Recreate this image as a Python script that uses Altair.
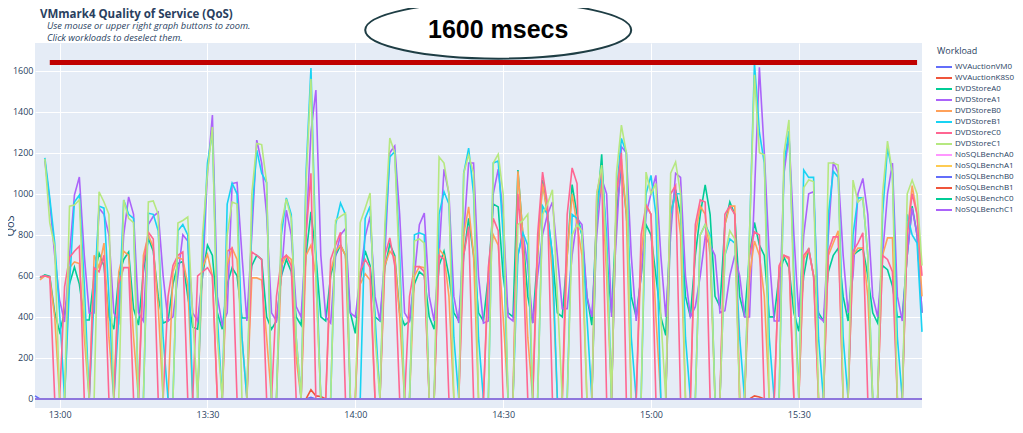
import altair as alt
import pandas as pd

# ---------------- data ----------------
START = pd.Timestamp("2023-05-10 12:55")   # first sample, one sample per minute

workloads = ["WVAuctionVM0", "WVAuctionK8S0", "DVDStoreA0", "DVDStoreA1",
             "DVDStoreB0", "DVDStoreB1", "DVDStoreC0", "DVDStoreC1",
             "NoSQLBenchA0", "NoSQLBenchA1", "NoSQLBenchB0", "NoSQLBenchB1",
             "NoSQLBenchC0", "NoSQLBenchC1"]
colors = ["#636EFA", "#EF553B", "#00CC96", "#AB63FA", "#FFA15A", "#19D3F3",
          "#FF6692", "#B6E880", "#FF97FF", "#FECB52", "#636EFA", "#EF553B",
          "#00CC96", "#AB63FA"]
tick_hours = [(13, 0), (13, 30), (14, 0), (14, 30), (15, 0), (15, 30)]
y_ticks = [0, 200, 400, 600, 800, 1000, 1200, 1400, 1600]

title_text = "VMmark4 Quality of Service (QoS)"
subtitle_lines = ["Use mouse or upper right graph buttons to zoom.",
                  "Click workloads to deselect them."]

N = None
dvd_a0 = [N,
    590, 605, 598, 420, 327,
    420, 560, 643, 560, 385, 385,
    600, 710, 650, 400, 340,
    600, 680, 716, 440, 360,
    620, 785, 720, 500, 370, 380,
    560, 660, 670, 500, 350, 340,
    600, 750, 700, 420, 340,
    560, 640, 600, 395, 395,
    650, 700, 680, 400, 340,
    380, 600, 680, 620, 400, 360,
    700, 912, 700, 400, 380,
    600, 700, 750, 700, 420, 320,
    580, 722, 650, 400, 380,
    640, 755, 700, 420, 360, 380,
    560, 620, 600, 400, 340,
    650, 720, 600, 420, 380,
    700, 880, 700, 420, 380,
    600, 950, 936, 600, 420, 400,
    1116, 800, 500, 370,
    700, 1067, 900, 700, 420, 400,
    700, 1045, 900, 800, 500, 360,
    900, 1193, 700, 420,
    900, 1140, 900, 500, 400,
    600, 850, 800, 600, 400, 310,
    900, 1020, 900, 500, 400,
    700, 900, 1043, 900, 500, 450,
    850, 960, 900, 500, 400,
    700, 860, 750, 700, 400, 400,
    600, 690, 640, 420, 330,
    600, 735, 600, 420, 380,
    620, 700, 735, 500, 380,
    700, 720, 735, 600, 420, 370,
    650, 630, 550, 400, 400,
    700, 940, 800, 420]

dvd_a1 = [N, N,
    1160, 960, 700, 482,
    375, 700, 994, 1082, 700, 419,
    419, 930, 900, 800, 420,
    375, 800, 985, 900, 420,
    380, 850, 890, 910, 600, 380,
    400, 600, 800, 770, 420, 380,
    600, 1100, 1384, 500, 360,
    420, 1050, 1055, 700, 380,
    800, 1262, 1150, 900, 420,
    380, 600, 920, 800, 450, 400,
    800, 1300, 1506, 700, 400,
    370, 700, 800, 830, 420, 400,
    600, 790, 890, 500, 380,
    700, 1200, 1233, 900, 420, 380,
    600, 850, 906, 500, 380,
    700, 1120, 1000, 500, 370,
    800, 1150, 1150, 600, 370,
    380, 1000, 1120, 900, 400, 380,
    700, 810, 650, 370,
    600, 800, 900, 960, 700, 440,
    440, 700, 880, 850, 500, 400,
    800, 1075, 1000, 400,
    800, 1230, 1200, 700, 380,
    600, 900, 1000, 1090, 700, 400,
    800, 1100, 1080, 600, 400,
    450, 600, 790, 750, 700, 420,
    430, 600, 700, 600, 400,
    400, 1000, 1617, 1200, 700, 380,
    380, 1100, 1285, 800, 400,
    800, 1000, 1010, 400, 380,
    800, 1155, 1100, 700, 420,
    600, 1000, 1075, 900, 500, 400,
    700, 1000, 1150, 500, 380,
    700, 930, 800, 420]

dvd_b0 = [N,
    580, 600, 590, 400, 0,
    0, 640, 668, 660, 300, 0,
    700, 640, 760, 300, 0,
    620, 720, 700, 300, 0,
    700, 800, 740, 450, 0, 0,
    620, 690, 680, 560, 0, 0,
    640, 705, 600, 0, 0,
    650, 735, 680, 300, 0,
    590, 590, 580, 300, 0,
    0, 650, 700, 680, 200, 0,
    700, 750, 600, 0, 0,
    620, 720, 750, 700, 0, 0,
    560, 610, 580, 0, 0,
    650, 720, 690, 400, 0, 0,
    600, 645, 640, 0, 0,
    730, 700, 500, 0, 0,
    800, 936, 700, 0, 0,
    600, 800, 750, 400, 0, 0,
    1110, 800, 300, 0,
    700, 1050, 900, 600, 0, 0,
    700, 1000, 850, 700, 0, 0,
    900, 1075, 600, 0,
    1000, 1170, 900, 0, 0,
    700, 945, 900, 400, 0, 0,
    900, 1000, 800, 0, 0,
    800, 940, 900, 700, 0, 0,
    850, 940, 940, 0, 0,
    600, 770, 700, 500, 0, 0,
    640, 700, 680, 0, 0,
    680, 730, 600, 0, 0,
    700, 760, 820, 0, 0,
    700, 735, 735, 500, 0, 0,
    700, 785, 785, 0, 0,
    800, 1040, 900, 500]

dvd_b1 = [N, N,
    1175, 980, 760, 420,
    0, 560, 960, 994, 560, 0,
    500, 940, 930, 500, 0,
    400, 970, 900, 880, 0,
    0, 905, 900, 820, 300, 0,
    0, 820, 850, 800, 0, 0,
    700, 1150, 1300, 400, 0,
    950, 1052, 1000, 300, 0,
    900, 1213, 1100, 1055, 0,
    0, 800, 980, 900, 300, 0,
    1100, 1613, 700, 0, 0,
    0, 850, 955, 900, 0, 0,
    0, 880, 940, 400, 0,
    800, 1180, 1205, 700, 0, 0,
    800, 810, 800, 0, 0,
    900, 1010, 950, 300, 0,
    1100, 1223, 1000, 300, 0,
    0, 1150, 1160, 800, 0, 0,
    700, 810, 750, 0,
    0, 940, 900, 700, 0, 0,
    0, 900, 880, 800, 400, 0,
    900, 1125, 800, 0,
    1000, 1270, 1200, 300, 0,
    0, 1000, 1090, 900, 0, 0,
    900, 1000, 1000, 300, 0,
    0, 800, 850, 800, 0, 0,
    700, 780, 760, 300, 0,
    800, 1637, 1300, 1150, 300, 0,
    0, 1150, 1305, 600, 0,
    1116, 1080, 1080, 300, 0,
    900, 1110, 1080, 300, 0,
    800, 980, 980, 700, 0, 0,
    900, 1225, 1100, 300, 0,
    900, 800, 760, 327]

dvd_c0 = [N,
    595, 600, 595, 0, 0,
    546, 690, 720, 745, 0, 0,
    640, 620, 700, 0, 0,
    560, 640, 640, 0, 0,
    650, 813, 780, 0, 0, 500,
    650, 700, 716, 0, 0, 600,
    620, 640, 600, 0, 0,
    720, 735, 0, 0, 0,
    716, 700, 680, 0, 0,
    500, 680, 700, 650, 0, 0,
    800, 1100, 0, 0, 0,
    680, 750, 813, 0, 0, 0,
    620, 680, 640, 0, 0,
    700, 785, 650, 0, 0, 500,
    645, 645, 620, 0, 0,
    700, 680, 0, 0, 0,
    700, 840, 0, 0, 0,
    640, 880, 820, 0, 0, 0,
    1000, 700, 0, 0,
    800, 1106, 950, 0, 0, 0,
    900, 1126, 1050, 0, 0, 0,
    1000, 1120, 0, 0,
    1000, 1200, 0, 0, 0,
    800, 945, 900, 0, 0, 0,
    1000, 1040, 0, 0, 0,
    850, 970, 960, 0, 0, 0,
    900, 940, 900, 0, 0,
    700, 815, 800, 0, 0, 0,
    650, 700, 690, 0, 0,
    700, 730, 600, 0, 0,
    720, 790, 790, 0, 0,
    720, 760, 810, 0, 0, 0,
    700, 680, 620, 0, 0,
    800, 1000, 900, 600]

dvd_c1 = [N, N,
    1170, 858, 741, 0,
    0, 940, 945, 970, 400, 0,
    0, 1010, 960, 900, 0,
    0, 970, 880, 860, 0,
    0, 960, 965, 900, 0, 0,
    0, 858, 870, 887, 400, 0,
    800, 1100, 1326, 300, 0,
    800, 960, 950, 0, 0,
    1000, 1245, 1240, 1055, 0,
    0, 850, 975, 880, 300, 0,
    1050, 1560, 600, 0, 0,
    0, 870, 890, 905, 0, 0,
    860, 930, 1004, 300, 0,
    850, 1272, 1200, 600, 0, 0,
    770, 780, 760, 0, 0,
    1180, 1150, 1000, 0, 0,
    1100, 1190, 1100, 0, 0,
    0, 1150, 1193, 1000, 0, 0,
    850, 870, 900, 0,
    0, 900, 950, 1020, 500, 0,
    0, 800, 850, 820, 0, 0,
    1000, 1140, 700, 0,
    1100, 1335, 1200, 0, 0,
    0, 1106, 1000, 1050, 400, 0,
    1100, 1155, 1000, 0, 0,
    0, 800, 850, 780, 0, 0,
    700, 820, 780, 0, 0,
    800, 1580, 1200, 1190, 0, 0,
    0, 1200, 1360, 500, 0,
    1030, 1067, 1060, 0, 0,
    1150, 1150, 1140, 0, 0,
    1067, 960, 980, 700, 0, 0,
    1000, 1257, 1100, 0, 0,
    1000, 1067, 1000, 650]

dense = {"DVDStoreA0": dvd_a0, "DVDStoreA1": dvd_a1, "DVDStoreB0": dvd_b0,
         "DVDStoreB1": dvd_b1, "DVDStoreC0": dvd_c0, "DVDStoreC1": dvd_c1}

# workloads that stay on the zero line: (minute offsets, values)
wv_vm0_min = [0, 1, 55, 56, 57, 180]
wv_vm0_val = [15, 0, 0, 8, 0, 0]
wv_k8s_min = [0, 55, 56, 57, 58, 59, 145, 146, 147, 148, 180]
wv_k8s_val = [0, 0, 45, 15, 12, 0, 0, 15, 10, 0, 0]
flat_min = [0, 180]
flat_val = [0, 0]
sparse = {"WVAuctionVM0": (wv_vm0_min, wv_vm0_val),
          "WVAuctionK8S0": (wv_k8s_min, wv_k8s_val)}
for nm in workloads[8:]:
    sparse[nm] = (flat_min, flat_val)

# threshold annotation
thr_value = 1640
thr_start_min, thr_end_min = 3, 179
ann_min, ann_value, ann_text = 94, 1798, "1600 msecs"


def t(m):
    return (START + pd.Timedelta(minutes=m)).strftime("%Y-%m-%dT%H:%M:%S")


rows = []
for name in workloads:
    if name in dense:
        for m, v in enumerate(dense[name]):
            if v is not None:
                rows.append({"time": t(m), "Workload": name, "QoS": v})
    else:
        mins, vals = sparse[name]
        for m, v in zip(mins, vals):
            rows.append({"time": t(m), "Workload": name, "QoS": v})
df = pd.DataFrame(rows)

thr_df = pd.DataFrame({"start": [t(thr_start_min)], "end": [t(thr_end_min)],
                       "QoS": [thr_value]})
ann_df = pd.DataFrame({"time": [t(ann_min)], "QoS": [ann_value], "label": [ann_text]})
head_df = pd.DataFrame({"txt": [title_text]})
sub1_df = pd.DataFrame({"txt": [subtitle_lines[0]]})
sub2_df = pd.DataFrame({"txt": [subtitle_lines[1]]})

# ---------------- chart ----------------
FONT = "Open Sans"
TXT = "#2a3f5f"
PLOT_W, PLOT_H = 887, 365
x_vals = [alt.DateTime(year=START.year, month=START.month, date=START.day,
                       hours=h, minutes=mi) for h, mi in tick_hours]
xscale = alt.Scale(nice=False)
yscale = alt.Scale(domain=[-44, 1735], nice=False)

x_enc = alt.X("time:T", scale=xscale, title=None,
              axis=alt.Axis(format="%H:%M", values=x_vals, labelPadding=2))
y_enc = alt.Y("QoS:Q", scale=yscale, title="QoS",
              axis=alt.Axis(values=y_ticks, format="d", labelPadding=2, titleX=-20))

lines = alt.Chart(df).mark_line(strokeWidth=1.6).encode(
    x=x_enc,
    y=y_enc,
    color=alt.Color("Workload:N", sort=workloads,
                    scale=alt.Scale(domain=workloads, range=colors),
                    legend=alt.Legend(title="Workload", orient="none",
                                      legendX=902, legendY=4,
                                      symbolType="M -1.4 0 H 1.4", symbolSize=130,
                                      symbolStrokeWidth=2, labelFontSize=8,
                                      titleFontSize=9, titleFontWeight="normal",
                                      titleColor=TXT, labelColor=TXT,
                                      titleFont=FONT, labelFont=FONT,
                                      rowPadding=0, labelOffset=4, titlePadding=4)),
)

rule = alt.Chart(thr_df).mark_rule(color="#C00000", strokeWidth=5).encode(
    x=alt.X("start:T", scale=xscale), x2="end:T",
    y=alt.Y("QoS:Q", scale=yscale))

K = 0.5523
RY = 0.215
ELLIPSE = (f"M -1 0 C -1 {-RY*K:.4f} {-K:.4f} {-RY} 0 {-RY} "
           f"C {K:.4f} {-RY} 1 {-RY*K:.4f} 1 0 "
           f"C 1 {RY*K:.4f} {K:.4f} {RY} 0 {RY} "
           f"C {-K:.4f} {RY} -1 {RY*K:.4f} -1 0 Z")
ell = alt.Chart(ann_df).mark_point(shape=ELLIPSE, size=70756, fill="white",
                                   stroke="#1e3d44", strokeWidth=2, opacity=1,
                                   fillOpacity=1, strokeOpacity=1).encode(
    x=alt.X("time:T", scale=xscale), y=alt.Y("QoS:Q", scale=yscale))

txt = alt.Chart(ann_df).mark_text(font="Liberation Sans", fontSize=25,
                                  fontWeight="bold", color="black").encode(
    x=alt.X("time:T", scale=xscale), y=alt.Y("QoS:Q", scale=yscale),
    text="label:N")

head = alt.Chart(head_df).mark_text(font=FONT, fontSize=11.5, fontWeight="bold",
                                    color=TXT, align="left", baseline="middle").encode(
    x=alt.value(5), y=alt.value(-28), text="txt:N")
sub1 = alt.Chart(sub1_df).mark_text(font=FONT, fontSize=9.3, fontStyle="italic",
                                    color=TXT, align="left", baseline="middle").encode(
    x=alt.value(12), y=alt.value(-17), text="txt:N")
sub2 = alt.Chart(sub2_df).mark_text(font=FONT, fontSize=9.3, fontStyle="italic",
                                    color=TXT, align="left", baseline="middle").encode(
    x=alt.value(12), y=alt.value(-5.5), text="txt:N")

chart = alt.layer(lines, rule, ell, txt, head, sub1, sub2).properties(
    width=PLOT_W, height=PLOT_H,
    autosize=alt.AutoSizeParams(type="none"),
    padding={"left": 27, "top": 35, "right": 93, "bottom": 12},
).configure_view(fill="#E5ECF6", stroke=None).configure_axis(
    grid=True, gridColor="white", gridWidth=1, domain=False, ticks=False,
    labelFont=FONT, labelFontSize=9, labelColor=TXT,
    titleFont=FONT, titleFontSize=11, titleColor=TXT, titleFontWeight="normal")

chart.save("out.html", embed_options={"renderer": "svg", "actions": False})
